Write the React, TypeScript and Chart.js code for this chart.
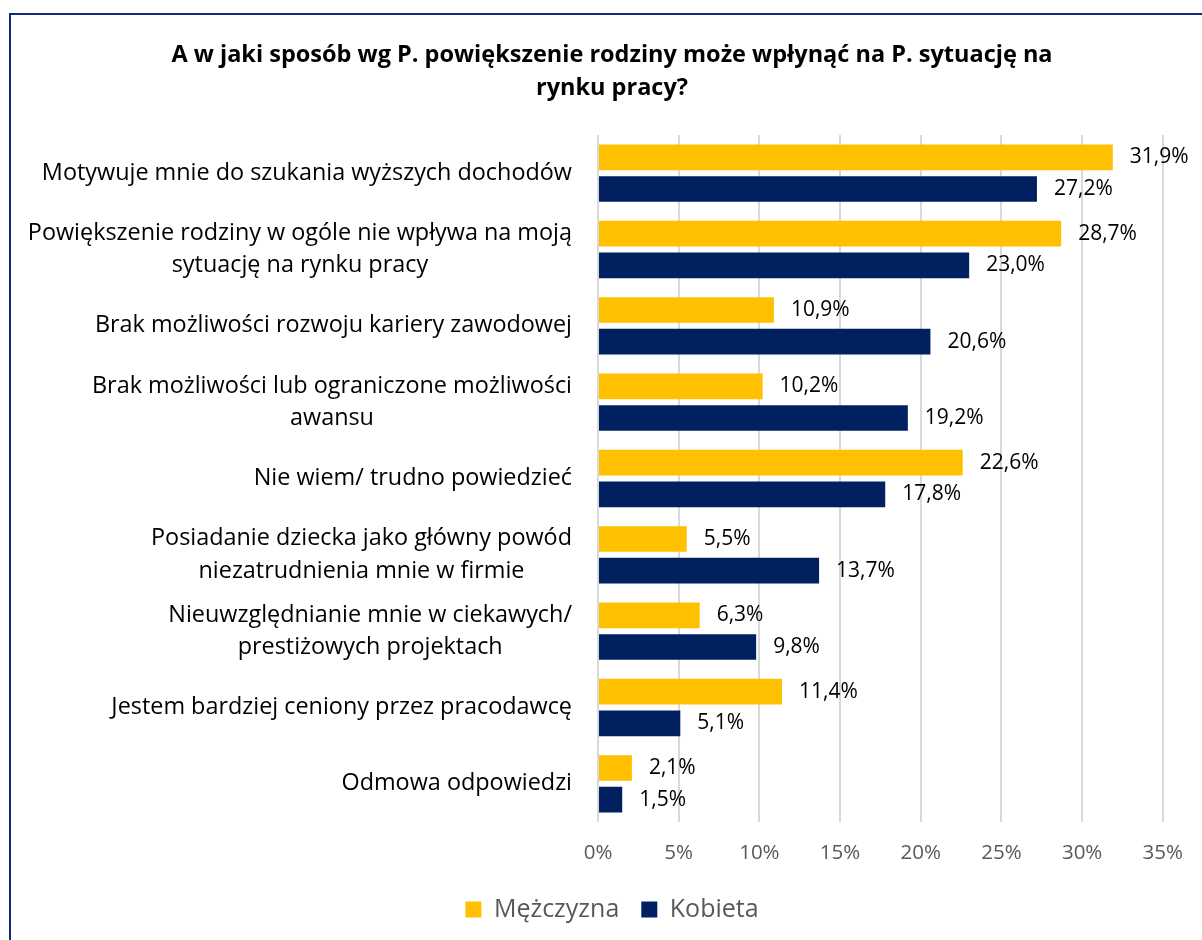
import React, { useEffect, useRef } from "react";
import { Chart, registerables } from "chart.js";

Chart.register(...registerables);

const titleLines = [
  "A w jaki sposób wg P. powiększenie rodziny może wpłynąć na P. sytuację na",
  "rynku pracy?",
];

const categories: (string | string[])[] = [
  "Motywuje mnie do szukania wyższych dochodów",
  ["Powiększenie rodziny w ogóle nie wpływa na moją", "sytuację na rynku pracy"],
  "Brak możliwości rozwoju kariery zawodowej",
  ["Brak możliwości lub ograniczone możliwości", "awansu"],
  "Nie wiem/ trudno powiedzieć",
  ["Posiadanie dziecka jako główny powód", "niezatrudnienia mnie w firmie"],
  ["Nieuwzględnianie mnie w ciekawych/", "prestiżowych projektach"],
  "Jestem bardziej ceniony przez pracodawcę",
  "Odmowa odpowiedzi",
];

const seriesNames = ["Mężczyzna", "Kobieta"];
const menValues = [31.9, 28.7, 10.9, 10.2, 22.6, 5.5, 6.3, 11.4, 2.1];
const womenValues = [27.2, 23.0, 20.6, 19.2, 17.8, 13.7, 9.8, 5.1, 1.5];
const xTickLabels = ["0%", "5%", "10%", "15%", "20%", "25%", "30%", "35%"];

const FONT = "'Open Sans', 'Noto Sans', sans-serif";

const yLabelPlugin = {
  id: "yLabels",
  afterDraw(chart: any) {
    const ctx = chart.ctx;
    const scale = chart.scales.y;
    ctx.save();
    ctx.font = `23.4px ${FONT}`;
    ctx.fillStyle = "#000000";
    ctx.textBaseline = "middle";
    ctx.textAlign = "center";
    const right = chart.chartArea.left - 26;
    const lh = 32.5;
    (chart.data.labels as (string | string[])[]).forEach((lab, i) => {
      const lines = Array.isArray(lab) ? lab : [lab];
      const w = Math.max(...lines.map((l) => ctx.measureText(l).width));
      const cx = right - w / 2;
      const yc = scale.getPixelForValue(i);
      lines.forEach((l, j) => {
        ctx.fillText(l, cx, yc + (j - (lines.length - 1) / 2) * lh);
      });
    });
    ctx.restore();
  },
};

const dataLabelPlugin = {
  id: "dataLabels",
  afterDatasetsDraw(chart: any) {
    const ctx = chart.ctx;
    ctx.save();
    ctx.font = `21px ${FONT}`;
    ctx.fillStyle = "#000000";
    ctx.textBaseline = "middle";
    ctx.textAlign = "left";
    chart.data.datasets.forEach((ds: any, di: number) => {
      const meta = chart.getDatasetMeta(di);
      meta.data.forEach((el: any, i: number) => {
        const v = ds.data[i] as number;
        ctx.fillText(v.toFixed(1).replace(".", ",") + "%", el.x + 17, el.y);
      });
    });
    ctx.restore();
  },
};

export default function App() {
  const ref = useRef<HTMLCanvasElement | null>(null);
  useEffect(() => {
    let chart: Chart | null = null;
    let cancelled = false;
    const make = () => {
      if (cancelled || !ref.current) return;
      chart = new Chart(ref.current, {
        type: "bar",
        data: {
          labels: categories as any,
          datasets: [
            {
              label: seriesNames[0],
              data: menValues,
              backgroundColor: "#FFC000",
              barPercentage: 0.81,
              categoryPercentage: 0.83,
            },
            {
              label: seriesNames[1],
              data: womenValues,
              backgroundColor: "#002060",
              barPercentage: 0.81,
              categoryPercentage: 0.83,
            },
          ],
        },
        options: {
          indexAxis: "y",
          animation: false,
          responsive: false,
          devicePixelRatio: 1,
          layout: { padding: { left: 60, right: 38, top: 0, bottom: 8 } },
          plugins: {
            title: {
              display: true,
              text: titleLines,
              color: "#000000",
              font: { family: FONT, size: 23.5, weight: "bold", lineHeight: 33 / 23.5 },
              padding: { top: 38.5, bottom: 30.5 },
            },
            legend: {
              display: true,
              position: "bottom",
              labels: {
                boxWidth: 16,
                boxHeight: 16,
                color: "#595959",
                font: { family: FONT, size: 25 },
                padding: 22,
              },
            },
            tooltip: { enabled: false },
          },
          scales: {
            x: {
              min: 0,
              max: 35,
              ticks: {
                stepSize: 5,
                color: "#595959",
                font: { family: FONT, size: 20.5 },
                padding: 19,
                callback: (_v: any, i: number) => xTickLabels[i],
              },
              grid: { color: "#d9d9d9", lineWidth: 2, drawTicks: false },
              border: { display: false },
              afterFit: (s: any) => {
                s.height = 53;
              },
            },
            y: {
              ticks: { display: false },
              grid: { display: false },
              border: { display: false },
              afterFit: (s: any) => {
                s.width = 538;
              },
            },
          },
        },
        plugins: [yLabelPlugin, dataLabelPlugin],
      });
    };
    const fontsReady = (document as any).fonts
      ? Promise.all([
          (document as any).fonts.load(`22px 'Open Sans'`),
          (document as any).fonts.load(`bold 22px 'Open Sans'`),
        ]).catch(() => null)
      : Promise.resolve();
    fontsReady.then(make);
    return () => {
      cancelled = true;
      if (chart) chart.destroy();
    };
  }, []);

  return (
    <div
      style={{
        position: "fixed",
        left: 0,
        top: 0,
        width: 1202,
        height: 940,
        background: "#ffffff",
        overflow: "hidden",
      }}
    >
      <canvas ref={ref} width={1202} height={940} style={{ position: "absolute", left: 0, top: 0 }} />
      <div
        style={{
          position: "absolute",
          left: 9,
          top: 13,
          width: 1400,
          height: 1200,
          borderLeft: "2px solid #102A7C",
          borderTop: "2px solid #102A7C",
          pointerEvents: "none",
        }}
      />
    </div>
  );
}
